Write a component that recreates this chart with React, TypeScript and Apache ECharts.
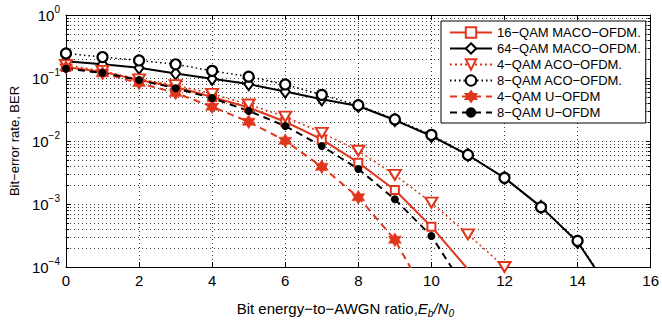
import React, { useEffect, useRef } from 'react';
import * as echarts from 'echarts';

// Eb/N0 values (dB)
const SNR = [0, 1, 2, 3, 4, 5, 6, 7, 8, 9, 10, 11, 12, 13, 14, 15];
const X_TICKS = [0, 2, 4, 6, 8, 10, 12, 14, 16];

// BER values (index = Eb/N0 in dB); last points fall below 1e-4 and are clipped
const QAM16_MACO = [0.15, 0.125, 0.093, 0.072, 0.05, 0.034, 0.0202, 0.0106, 0.00453, 0.00167, 0.000436, 0.000092];
const QAM64_MACO = [0.185, 0.165, 0.145, 0.118, 0.097, 0.08, 0.061, 0.046, 0.036, 0.0215, 0.012, 0.006, 0.0026, 0.0009, 0.00025, 0.000034];
const QAM4_ACO = [0.161, 0.13, 0.095, 0.077, 0.056, 0.038, 0.0243, 0.0135, 0.007, 0.0029, 0.00105, 0.00033, 0.0001];
const QAM8_ACO = [0.245, 0.215, 0.19, 0.165, 0.13, 0.105, 0.079, 0.054, 0.037, 0.022, 0.0125, 0.006, 0.0026, 0.00089, 0.00026, 0.000034];
const QAM4_U = [0.148, 0.119, 0.083, 0.058, 0.035, 0.0202, 0.0101, 0.0039, 0.00128, 0.00027, 0.000025];
const QAM8_U = [0.14, 0.121, 0.093, 0.0687, 0.048, 0.03, 0.0173, 0.0083, 0.0036, 0.00119, 0.00031, 0.000039];

const NAMES = [
  '16−QAM MACO−OFDM.',
  '64−QAM MACO−OFDM.',
  '4−QAM ACO−OFDM.',
  '8−QAM ACO−OFDM.',
  '4−QAM U−OFDM',
  '8−QAM U−OFDM',
];

const RED = '#e2361c';
const BLACK = '#000000';
const GRID = '#3a3a3a';
const FONT = '"Liberation Sans", Arial, Helvetica, sans-serif';
const HEXAGRAM =
  'path://M50,0 L64.4,25 L93.3,25 L78.9,50 L93.3,75 L64.4,75 L50,100 L35.6,75 L6.7,75 L21.1,50 L6.7,25 L35.6,25 Z';

const pairs = (vals: number[]) => vals.map((v, i) => [SNR[i], v]);

export default function App() {
  const ref = useRef<HTMLDivElement>(null);
  useEffect(() => {
    if (!ref.current) return;
    const chart = echarts.init(ref.current, null, { renderer: 'svg' });
    const supLabel = (v: number) => {
      const e = Math.round(Math.log10(v));
      return `{b|10}{s|${e < 0 ? '−' + -e : e}}`;
    };
    const option: any = {
      animation: false,
      backgroundColor: '#fff',
      textStyle: { fontFamily: FONT },
      grid: { left: 64, right: 7, top: 15, bottom: 57, containLabel: false },
      legend: {
        left: 441,
        top: 21,
        orient: 'vertical',
        backgroundColor: '#fff',
        borderColor: '#000',
        borderWidth: 1,
        borderRadius: 0,
        padding: [5, 5, 4, 8],
        itemWidth: 42,
        itemHeight: 13,
        itemGap: 3,
        textStyle: { fontSize: 13, color: '#000', fontFamily: FONT },
        data: NAMES,
      },
      xAxis: [
        {
          type: 'value',
          min: 0,
          max: 16,
          interval: 2,
          name: 'Bit energy−to−AWGN ratio,{i|E}{sub|b}{i|/N}{sub|0}',
          nameLocation: 'middle',
          nameGap: 32,
          nameTextStyle: {
            fontSize: 15,
            color: '#000',
            fontFamily: FONT,
            padding: [0, 26, 0, 0],
            rich: {
              i: { fontSize: 15, fontStyle: 'italic', fontFamily: FONT, color: '#000' },
              sub: { fontSize: 10, fontStyle: 'italic', fontFamily: FONT, color: '#000', padding: [9, 0, 0, 0] },
            },
          },
          axisLine: { show: true, onZero: false, lineStyle: { color: '#000', width: 1 } },
          axisTick: { show: true, inside: true, length: 5, lineStyle: { color: '#000' } },
          axisLabel: {
            fontSize: 15,
            color: '#000',
            margin: 6,
            fontFamily: FONT,
            customValues: X_TICKS,
          },
          splitLine: { show: true, lineStyle: { color: GRID, type: [1, 3], width: 1 } },
        },
        {
          type: 'value',
          position: 'top',
          min: 0,
          max: 16,
          interval: 2,
          axisLine: { show: true, onZero: false, lineStyle: { color: '#000', width: 1 } },
          axisTick: { show: true, inside: true, length: 5, lineStyle: { color: '#000' } },
          axisLabel: { show: false },
          splitLine: { show: false },
        },
      ],
      yAxis: [
        {
          type: 'log',
          logBase: 10,
          min: 1e-4,
          max: 1,
          name: 'Bit−error rate, BER',
          nameLocation: 'middle',
          nameGap: 44,
          nameTextStyle: { fontSize: 13, color: '#000', fontFamily: FONT },
          axisLine: { show: true, onZero: false, lineStyle: { color: '#000', width: 1 } },
          axisTick: { show: true, inside: true, length: 5, lineStyle: { color: '#000' } },
          minorTick: { show: true, splitNumber: 9, length: 3, lineStyle: { color: '#000' } },
          minorSplitLine: { show: true, lineStyle: { color: GRID, type: [1, 3], width: 1 } },
          splitLine: { show: true, lineStyle: { color: GRID, type: [1, 3], width: 1 } },
          axisLabel: {
            margin: 6,
            formatter: supLabel,
            rich: {
              b: { fontSize: 15, color: '#000', fontFamily: FONT, verticalAlign: 'middle' },
              s: { fontSize: 10, color: '#000', fontFamily: FONT, verticalAlign: 'middle', padding: [0, 0, 12, 0] },
            },
          },
        },
        {
          type: 'log',
          logBase: 10,
          min: 1e-4,
          max: 1,
          position: 'right',
          axisLine: { show: true, onZero: false, lineStyle: { color: '#000', width: 1 } },
          axisTick: { show: true, inside: true, length: 5, lineStyle: { color: '#000' } },
          minorTick: { show: true, splitNumber: 9, length: 3, lineStyle: { color: '#000' } },
          axisLabel: { show: false },
          splitLine: { show: false },
        },
      ],
      series: [
        {
          name: NAMES[0],
          type: 'line',
          data: pairs(QAM16_MACO),
          color: RED,
          symbol: 'rect',
          symbolSize: 8,
          lineStyle: { color: RED, width: 2, type: 'solid' },
          itemStyle: { color: '#fff', borderColor: RED, borderWidth: 2 },
          clip: true,
        },
        {
          name: NAMES[1],
          type: 'line',
          data: pairs(QAM64_MACO),
          color: BLACK,
          symbol: 'diamond',
          symbolSize: [9, 12],
          lineStyle: { color: BLACK, width: 2, type: 'solid' },
          itemStyle: { color: '#fff', borderColor: BLACK, borderWidth: 2 },
          clip: true,
        },
        {
          name: NAMES[2],
          type: 'line',
          data: pairs(QAM4_ACO),
          color: RED,
          symbol: 'triangle',
          symbolRotate: 180,
          symbolSize: [12, 10],
          lineStyle: { color: RED, width: 1.5, type: [2, 3] },
          itemStyle: { color: '#fff', borderColor: RED, borderWidth: 2 },
          clip: true,
        },
        {
          name: NAMES[3],
          type: 'line',
          data: pairs(QAM8_ACO),
          color: BLACK,
          symbol: 'circle',
          symbolSize: 10,
          lineStyle: { color: BLACK, width: 1.5, type: [1.5, 3] },
          itemStyle: { color: '#fff', borderColor: BLACK, borderWidth: 2.2 },
          clip: true,
        },
        {
          name: NAMES[4],
          type: 'line',
          data: pairs(QAM4_U),
          color: RED,
          symbol: HEXAGRAM,
          symbolSize: [13, 14],
          lineStyle: { color: RED, width: 2, type: [7, 5] },
          itemStyle: { color: RED, borderColor: RED, borderWidth: 0.5 },
          clip: true,
        },
        {
          name: NAMES[5],
          type: 'line',
          data: pairs(QAM8_U),
          color: BLACK,
          symbol: 'circle',
          symbolSize: 8,
          lineStyle: { color: BLACK, width: 2, type: [7, 5] },
          itemStyle: { color: BLACK, borderColor: BLACK, borderWidth: 0 },
          clip: true,
        },
      ],
    };
    chart.setOption(option);
    return () => chart.dispose();
  }, []);
  return (
    <div
      ref={ref}
      style={{ position: 'fixed', left: 0, top: 0, width: 662, height: 324, background: '#fff' }}
    />
  );
}
